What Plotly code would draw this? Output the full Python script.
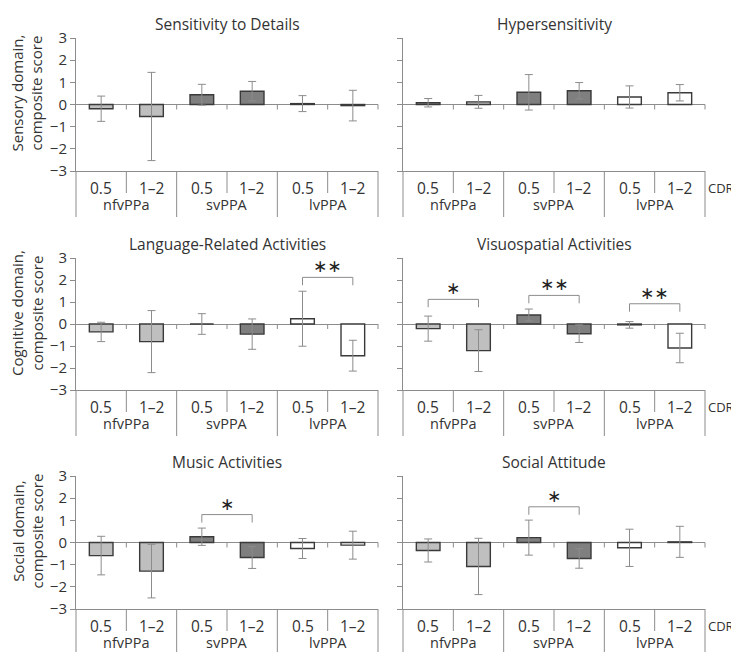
import plotly.graph_objects as go

# ---------------- data ----------------
groups = ["nfvPPa", "svPPA", "lvPPA"]
cdr_levels = ["0.5", "1–2"]
panel_titles = ["Sensitivity to Details", "Hypersensitivity",
                "Language-Related Activities", "Visuospatial Activities",
                "Music Activities", "Social Attitude"]
row_titles = ["Sensory domain,<br>composite score",
              "Cognitive domain,<br>composite score",
              "Social domain,<br>composite score"]
y_ticks = [-3, -2, -1, 0, 1, 2, 3]

# means, order: nfv 0.5, nfv 1-2, sv 0.5, sv 1-2, lv 0.5, lv 1-2
sens_details_mean = [-0.19, -0.54, 0.44, 0.60, 0.04, -0.05]
sens_details_err = [0.57, 1.99, 0.47, 0.44, 0.36, 0.69]
hypersens_mean = [0.08, 0.12, 0.55, 0.62, 0.34, 0.53]
hypersens_err = [0.19, 0.29, 0.80, 0.37, 0.50, 0.37]
language_mean = [-0.36, -0.80, 0.0, -0.46, 0.24, -1.44]
language_err = [0.44, 1.41, 0.47, 0.69, 1.25, 0.70]
visuo_mean = [-0.21, -1.21, 0.41, -0.44, -0.04, -1.09]
visuo_err = [0.57, 0.95, 0.27, 0.40, 0.15, 0.67]
music_mean = [-0.59, -1.29, 0.26, -0.68, -0.27, -0.12]
music_err = [0.87, 1.21, 0.39, 0.49, 0.45, 0.63]
social_mean = [-0.36, -1.08, 0.22, -0.72, -0.24, 0.03]
social_err = [0.52, 1.27, 0.79, 0.44, 0.84, 0.70]

panel_means = [sens_details_mean, hypersens_mean, language_mean,
               visuo_mean, music_mean, social_mean]
panel_errs = [sens_details_err, hypersens_err, language_err,
              visuo_err, music_err, social_err]

# significance brackets: (panel index, group index, bracket height, label)
sig_panel = [2, 3, 3, 3, 4, 5]
sig_group = [2, 0, 1, 2, 1, 1]
sig_top = [2.12, 1.12, 1.30, 0.92, 1.26, 1.61]
sig_label = ["∗∗", "∗", "∗∗", "∗∗", "∗", "∗"]

# ---------------- style ----------------
W, H = 739, 652
OFF = 8  # page body margin in the browser
FONT = "Open Sans"
TXT = "#333333"
AX = "#8c8c8c"
group_colors = ["#bfbfbf", "#7f7f7f", "#ffffff"]
col_px = [(76 - OFF, 378 - OFF), (403 - OFF, 705 - OFF)]
row_px = [(38 - OFF, 171 - OFF), (258 - OFF, 390 - OFF), (476 - OFF, 609 - OFF)]

fig = go.Figure()
layout = dict(width=W, height=H,
              margin=dict(l=0, r=0, t=0, b=0, pad=0, autoexpand=False),
              paper_bgcolor="white", plot_bgcolor="white", showlegend=False,
              font=dict(family=FONT, color=TXT, size=15))
shapes, annotations = [], []

for k in range(6):
    r, c = divmod(k, 2)
    s = "" if k == 0 else str(k + 1)
    xd = [col_px[c][0] / W, col_px[c][1] / W]
    yd = [1 - row_px[r][1] / H, 1 - row_px[r][0] / H]
    xpos, cols = [], []
    for g in range(len(groups)):
        for ci in range(len(cdr_levels)):
            xpos.append(g * len(cdr_levels) + ci + 0.5)
            cols.append(group_colors[g])
    fig.add_trace(go.Bar(
        x=xpos, y=panel_means[k], width=0.47,
        marker=dict(color=cols, line=dict(color="#3a3a3a", width=1.4)),
        error_y=dict(type="data", array=panel_errs[k], visible=True,
                     color=AX, thickness=1, width=4),
        xaxis="x" + s, yaxis="y" + s, hoverinfo="y"))
    n = len(groups) * len(cdr_levels)
    layout["xaxis" + s] = dict(domain=xd, range=[0, n], anchor="y" + s,
                               automargin=False,
                               showline=True, linecolor=AX, linewidth=1,
                               showticklabels=False, ticks="", showgrid=False,
                               zeroline=False, fixedrange=True)
    layout["yaxis" + s] = dict(domain=yd, range=[-3, 3], anchor="x" + s,
                               automargin=False,
                               tickvals=y_ticks, ticks="outside", ticklen=5,
                               tickcolor=AX, showline=True, linecolor=AX,
                               linewidth=1, showticklabels=(c == 0),
                               tickfont=dict(size=15, color=TXT),
                               zeroline=True, zerolinecolor=AX,
                               zerolinewidth=1, showgrid=False, fixedrange=True)
    xr, yr = "x" + s, "y" + s
    # group dividers
    for g in range(len(groups) + 1):
        shapes.append(dict(type="line", xref=xr + " domain", yref=yr + " domain",
                           x0=g / len(groups), x1=g / len(groups),
                           ysizemode="pixel", yanchor=0, y0=0, y1=-46,
                           line=dict(color=AX, width=1)))
    # sub-dividers between CDR levels
    for g in range(len(groups)):
        xm = (g * 2 + 1) / n
        shapes.append(dict(type="line", xref=xr + " domain", yref=yr + " domain",
                           x0=xm, x1=xm, ysizemode="pixel", yanchor=0,
                           y0=0, y1=-22, line=dict(color=AX, width=1)))
    # ticks on zero line
    for j in range(1, n + 1):
        shapes.append(dict(type="line", xref=xr + " domain", yref=yr + " domain",
                           x0=j / n, x1=j / n, ysizemode="pixel", yanchor=0.5,
                           y0=0, y1=-5, line=dict(color=AX, width=1)))
    # category labels
    for g in range(len(groups)):
        for ci in range(len(cdr_levels)):
            annotations.append(dict(text=cdr_levels[ci], xref=xr,
                                    x=g * 2 + ci + 0.5, yref=yr + " domain",
                                    y=0, yshift=-17, showarrow=False,
                                    yanchor="middle", font=dict(size=15.5)))
        annotations.append(dict(text=groups[g], xref=xr, x=g * 2 + 1,
                                yref=yr + " domain", y=0, yshift=-33,
                                showarrow=False, yanchor="middle",
                                font=dict(size=14.5)))
    if c == 1:
        annotations.append(dict(text="CDR", xref="paper", x=(706 - OFF) / W,
                                xanchor="left", yref=yr + " domain", y=0,
                                yshift=-17, yanchor="middle", showarrow=False,
                                font=dict(size=13)))
    else:
        annotations.append(dict(text=row_titles[r], xref="paper",
                                x=(27 - OFF) / W,
                                xanchor="center", yref=yr + " domain", y=0.5,
                                yshift=11, yanchor="middle", textangle=-90,
                                showarrow=False, font=dict(size=15)))
    annotations.append(dict(text=panel_titles[k], xref=xr + " domain", x=0.5,
                            yref=yr + " domain", y=1, yshift=14,
                            yanchor="middle", showarrow=False,
                            font=dict(size=15.5)))

# significance brackets
for i in range(len(sig_panel)):
    k = sig_panel[i]
    s = "" if k == 0 else str(k + 1)
    x0 = sig_group[i] * 2 + 0.5
    x1 = x0 + 1
    top = sig_top[i]
    leg = top - 0.36
    shapes.append(dict(type="path", xref="x" + s, yref="y" + s,
                       path=f"M {x0},{leg} L {x0},{top} L {x1},{top} L {x1},{leg}",
                       line=dict(color=AX, width=1)))
    annotations.append(dict(text=sig_label[i], xref="x" + s, x=(x0 + x1) / 2,
                            yref="y" + s, y=top, yshift=11, yanchor="middle",
                            showarrow=False,
                            font=dict(size=17, family="DejaVu Sans", color="#222")))

layout["shapes"] = shapes
layout["annotations"] = annotations
fig.update_layout(**layout)
fig.write_html("out.html")
